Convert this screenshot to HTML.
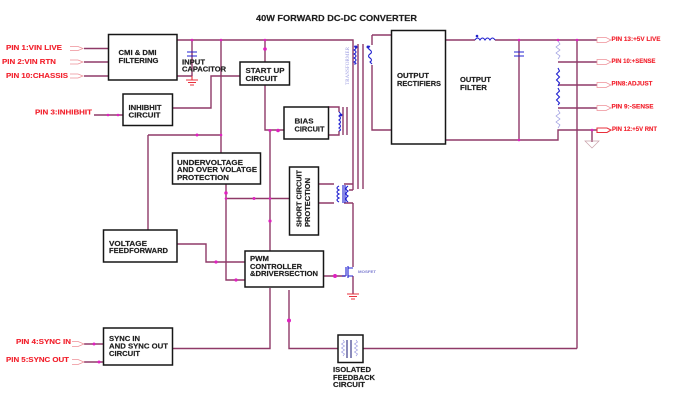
<!DOCTYPE html>
<html><head><meta charset="utf-8"><style>
html,body{margin:0;padding:0;background:#fff}
svg{display:block;filter:blur(.35px)}
text{font-family:"Liberation Sans",sans-serif;font-weight:bold}
.b text{fill:#1e1e1e;font-size:7.500px;stroke:#1e1e1e;stroke-width:.18}
.r text{fill:#f2202c;font-size:7px;stroke:#f2202c;stroke-width:.12}
.w{fill:none;stroke:#8f3a68;stroke-width:1.400}
.t{fill:none;stroke:#ee9098;stroke-width:.7}
.bx{fill:#fff;stroke:#161616;stroke-width:1.500}
.c{fill:none;stroke:#2020d0;stroke-width:1.100}
.l{fill:none;stroke:#9a9ae0;stroke-width:.7}
.d{fill:#e020c0}
.g{fill:none;stroke:#e8303c;stroke-width:1.100}
</style></head><body>
<svg width="677" height="408" viewBox="0 0 677 408" xmlns="http://www.w3.org/2000/svg">
<rect width="677" height="408" fill="#fff"/>
<path class="w" d="M177 40H353V190M84 48.500H108M84 62H108M84 76H108M177 76H192M192 40V76M265 40V62M265 85V130H284M270 130V251M221 40V153M148 135H221M148 135V230M172 108H211V76H240M226 184V280H245M226 198.500H289M177 244H206V262H245M270 288V348.500H172M289 290V348.500H338M363 348.500H577M94 115H123M84 344H103M84 362H103M323 276H345M353 190H349M318 184H334M318 203H334M344 184H353M344 203H353M353 203V267M353 276V294M358 44V189M363 44V189M372 35H391M372 35V45M372 65V130H391M328 107H339V112M328 135H339V131M343 107V135M347 107V135M446 40H475M495 40H597M519 40V140M446 140H558V130H597M558 62H597M558 85H597M558 108H597M577 40V348.500M592 130V142M353 40V46"/>
<g class="t">
<path d="M70 46.500H78L83 48.500L78 50.500H70M70 60H78L83 62L78 64H70M70 74H78L83 76L78 78H70"/>
<path d="M72 341.500H78L84 344L78 346.500H72M72 359.500H78L84 362L78 364.500H72"/>
<path d="M597 37.500H606L611 40L606 42.500H597ZM597 59.500H606L611 62L606 64.500H597ZM597 82.500H606L611 85L606 87.500H597ZM597 105.500H606L611 108L606 110.500H597Z"/>
<path d="M585 141H599L592 148Z" stroke="#c8a0a8"/>
</g>
<path class="g" d="M597 128H607L611 130L607 132.500H597ZM192 80V76M186 80H198M188 82.500H196M190 85H194M347 294H359M349 296.500H357M351 299H355"/>
<path class="c" d="M187 52H197M187 56H197M514 52H524M514 56H524"/>
<path class="c" d="M475 40q2.500-4 5 0q2.500-4 5 0q2.500-4 5 0q2.500-4 5 0" stroke="#2a2ac0"/>
<circle cx="477" cy="36" r="1.300" fill="#22c"/>
<path class="c" d="M354 46q4 2 0 4q4 2 0 4q4 2 0 4q4 2 0 4q4 2 0 2"/>
<path class="c" d="M370 46q-3 2 0 4q3 2 0 4q-3 2 0 4q3 2 0 4l2 2"/>
<circle cx="356" cy="47" r="1.500" fill="#22c"/><circle cx="368" cy="47" r="1.500" fill="#22c"/>
<path class="c" d="M339 112q3 2 0 4q3 2 0 4q3 2 0 4q3 2 0 4q3 2 0 3"/><circle cx="341" cy="115" r="1.400" fill="#22c"/>
<path class="c" d="M339 186q-4 2 0 4q-4 2 0 4q-4 2 0 4q-4 2 0 4M343 185V203M345 185V203M348 186q-4 3 0 5q-4 3 0 5q-4 3 0 6"/>
<path class="c" d="M346 267V276M348 266V278M348 268H353M348 276H353M346 276H342" stroke-width="1.300"/>
<path class="c" d="M558 68l1.500 3l-3 3l3 3l-3 3l3 3l-1.500 3M558 88l1.500 3l-3 3l3 3l-3 3l3 3l-1.500 2"/>
<path class="l" d="M558 41l2 3l-4 3l4 3l-4 3l4 3l-2 3M558 110l2 3l-4 3l4 3l-4 3l4 3l-2 3"/>
<g class="d">
<circle cx="192" cy="40" r="1.300"/><circle cx="221" cy="40" r="1.300"/><circle cx="265" cy="40" r="1.300"/><circle cx="265" cy="49" r="1.800"/>
<circle cx="118" cy="115" r="1.300"/><circle cx="108" cy="115" r="1.300"/><circle cx="197" cy="135" r="1.500"/><circle cx="221" cy="135" r="1.300"/>
<circle cx="270" cy="130.500" r="1.500"/><circle cx="278" cy="130.500" r="1.800"/><circle cx="226" cy="193" r="1.700"/><circle cx="226" cy="198.500" r="1.300"/><circle cx="254" cy="198.500" r="1.500"/><circle cx="270" cy="198.500" r="1.300"/>
<circle cx="270" cy="221" r="1.600"/><circle cx="216" cy="262" r="1.600"/><circle cx="236" cy="280" r="1.600"/><circle cx="335" cy="276" r="2"/>
<circle cx="94" cy="344" r="1.500"/><circle cx="99" cy="362" r="1.500"/><circle cx="289" cy="320.500" r="2"/>
<circle cx="519" cy="40" r="1.300"/><circle cx="519" cy="140" r="1.300"/><circle cx="558" cy="40" r="1.300"/><circle cx="577" cy="40" r="1.300"/><circle cx="592" cy="130" r="1.300"/>
</g>
<rect class="bx" x="108.500" y="34.500" width="68.500" height="45.500"/>
<rect class="bx" x="123" y="94" width="49.500" height="31.500"/>
<rect class="bx" x="240" y="62" width="49.500" height="23"/>
<rect class="bx" x="284" y="107" width="44.500" height="32"/>
<rect class="bx" x="172.500" y="153" width="88" height="31"/>
<rect class="bx" x="289.500" y="167" width="29" height="68"/>
<rect class="bx" x="103.500" y="230" width="73.500" height="32"/>
<rect class="bx" x="245" y="251" width="78.500" height="36"/>
<rect class="bx" x="103.500" y="328" width="69" height="37"/>
<rect class="bx" x="391.500" y="30.500" width="54" height="113.500"/>
<rect class="bx" x="338" y="335" width="25" height="27.500"/>
<path d="M347 340V358M351 340V358" stroke="#2a2a80" stroke-width="1.100" fill="none"/>
<path class="l" d="M343 340l1.500 2l-3 2l3 2l-3 2l3 2l-3 2l3 2l-1.500 2M356 340l1.500 2l-3 2l3 2l-3 2l3 2l-3 2l3 2l-1.500 2"/>
<g class="b">
<text x="256" y="21" style="font-size:8.500px" textLength="161" lengthAdjust="spacingAndGlyphs">40W FORWARD DC-DC CONVERTER</text>
<text x="118.500" y="55" textLength="38" lengthAdjust="spacingAndGlyphs">CMI &amp; DMI</text>
<text x="118.500" y="63" textLength="40" lengthAdjust="spacingAndGlyphs">FILTERING</text>
<text x="182" y="64.500" textLength="23" lengthAdjust="spacingAndGlyphs">INPUT</text>
<text x="182" y="71.500" textLength="44" lengthAdjust="spacingAndGlyphs">CAPACITOR</text>
<text x="245.500" y="73" textLength="39" lengthAdjust="spacingAndGlyphs">START UP</text>
<text x="245.500" y="81" textLength="32" lengthAdjust="spacingAndGlyphs">CIRCUIT</text>
<text x="128.500" y="110" textLength="33" lengthAdjust="spacingAndGlyphs">INHIBHIT</text>
<text x="128.500" y="117.500" textLength="32" lengthAdjust="spacingAndGlyphs">CIRCUIT</text>
<text x="294.500" y="123.500" textLength="19" lengthAdjust="spacingAndGlyphs">BIAS</text>
<text x="294.500" y="131.500" textLength="30" lengthAdjust="spacingAndGlyphs">CIRCUIT</text>
<text x="177" y="165" textLength="66" lengthAdjust="spacingAndGlyphs">UNDERVOLTAGE</text>
<text x="177" y="172" textLength="80" lengthAdjust="spacingAndGlyphs">AND OVER VOLATGE</text>
<text x="177" y="180" textLength="52" lengthAdjust="spacingAndGlyphs">PROTECTION</text>
<text x="109" y="246" textLength="38" lengthAdjust="spacingAndGlyphs">VOLTAGE</text>
<text x="109" y="253" textLength="59" lengthAdjust="spacingAndGlyphs">FEEDFORWARD</text>
<text x="250" y="261" textLength="19" lengthAdjust="spacingAndGlyphs">PWM</text>
<text x="250" y="269" textLength="52" lengthAdjust="spacingAndGlyphs">CONTROLLER</text>
<text x="250" y="276" textLength="68" lengthAdjust="spacingAndGlyphs">&amp;DRIVERSECTION</text>
<text x="109" y="341" textLength="31" lengthAdjust="spacingAndGlyphs">SYNC IN</text>
<text x="109" y="348.500" textLength="59" lengthAdjust="spacingAndGlyphs">AND SYNC OUT</text>
<text x="109" y="356" textLength="31" lengthAdjust="spacingAndGlyphs">CIRCUIT</text>
<text x="333" y="372" textLength="38" lengthAdjust="spacingAndGlyphs">ISOLATED</text>
<text x="333" y="380" textLength="42" lengthAdjust="spacingAndGlyphs">FEEDBACK</text>
<text x="333" y="387" textLength="32" lengthAdjust="spacingAndGlyphs">CIRCUIT</text>
<text x="397" y="78" textLength="32" lengthAdjust="spacingAndGlyphs">OUTPUT</text>
<text x="397" y="86" textLength="44" lengthAdjust="spacingAndGlyphs">RECTIFIERS</text>
<text x="460" y="82" textLength="31" lengthAdjust="spacingAndGlyphs">OUTPUT</text>
<text x="460" y="90" textLength="27" lengthAdjust="spacingAndGlyphs">FILTER</text>
<text transform="translate(301.500 227) rotate(-90)" textLength="57" lengthAdjust="spacingAndGlyphs">SHORT CIRCUIT</text>
<text transform="translate(310 227) rotate(-90)" textLength="49" lengthAdjust="spacingAndGlyphs">PROTECTION</text>
</g>
<g class="r">
<text x="6" y="50" textLength="56" lengthAdjust="spacingAndGlyphs">PIN 1:VIN LIVE</text>
<text x="2" y="64" textLength="54" lengthAdjust="spacingAndGlyphs">PIN 2:VIN RTN</text>
<text x="6" y="78" textLength="62" lengthAdjust="spacingAndGlyphs">PIN 10:CHASSIS</text>
<text x="35" y="114.500" textLength="57" lengthAdjust="spacingAndGlyphs">PIN 3:INHIBHIT</text>
<text x="16" y="344" textLength="55" lengthAdjust="spacingAndGlyphs">PIN 4:SYNC IN</text>
<text x="6" y="362" textLength="63" lengthAdjust="spacingAndGlyphs">PIN 5:SYNC OUT</text>
<text x="611.500" y="41" style="font-size:6px" textLength="49" lengthAdjust="spacingAndGlyphs">PIN 13:+5V LIVE</text>
<text x="611.500" y="63" style="font-size:6px" textLength="44" lengthAdjust="spacingAndGlyphs">PIN 10:+SENSE</text>
<text x="611.500" y="85.500" style="font-size:6px" textLength="41" lengthAdjust="spacingAndGlyphs">PIN8:ADJUST</text>
<text x="611.500" y="108.500" style="font-size:6px" textLength="42" lengthAdjust="spacingAndGlyphs">PIN 9:-SENSE</text>
<text x="612" y="131" style="font-size:6px" textLength="45" lengthAdjust="spacingAndGlyphs">PIN 12:+5V RNT</text>
</g>
<text transform="translate(349 85) rotate(-90)" style="font-family:'Liberation Serif',serif;font-size:5px;font-weight:normal" fill="#9a9ae0" textLength="38" lengthAdjust="spacingAndGlyphs">TRANSFORMER</text>
<text x="358" y="273" style="font-size:4px" fill="#7a7ad0" textLength="18" lengthAdjust="spacingAndGlyphs">MOSFET</text>
</svg>
</body></html>
